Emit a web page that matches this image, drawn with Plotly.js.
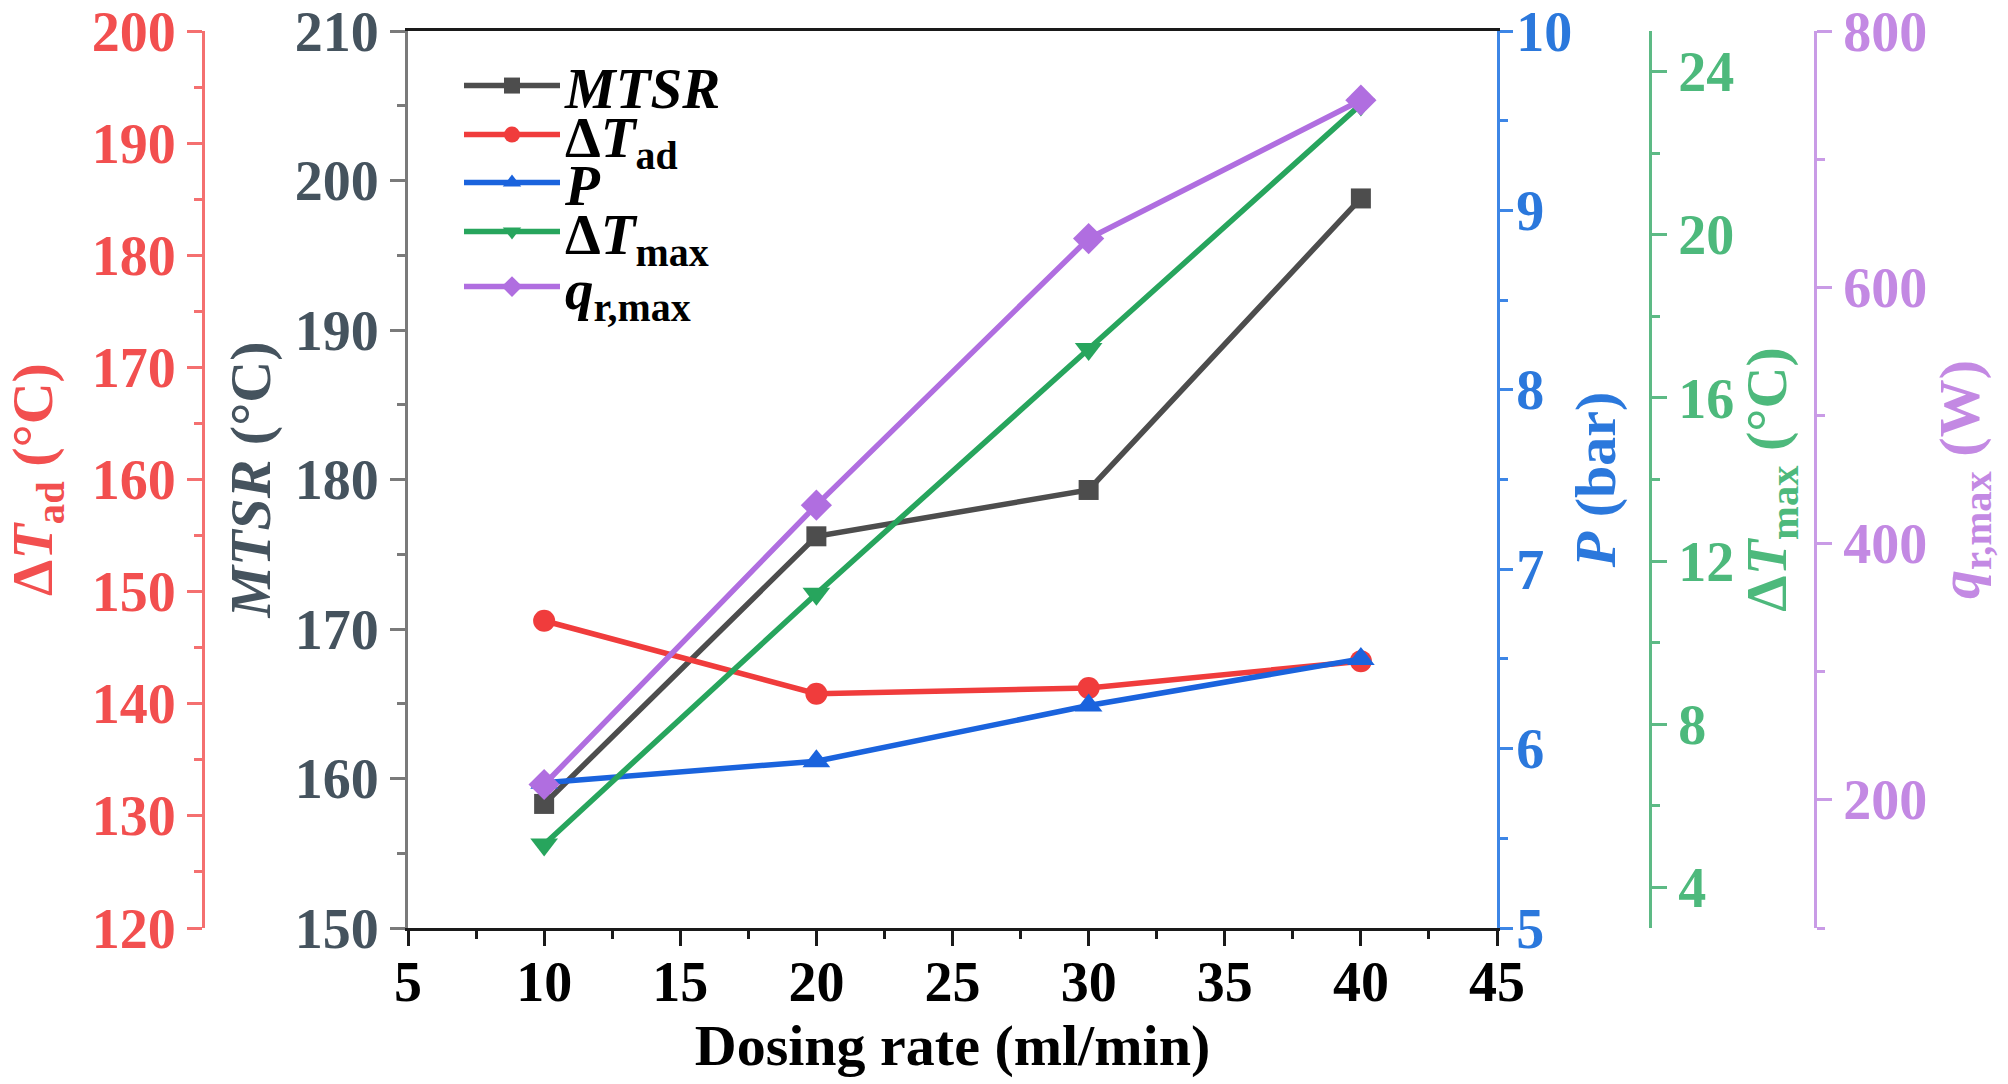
<!DOCTYPE html>
<html>
<head>
<meta charset="utf-8">
<script src="https://cdn.plot.ly/plotly-3.0.1.min.js"></script>
<style>
  html, body { margin: 0; padding: 0; background: #fff; }
  #chart { width: 2008px; height: 1084px; }
</style>
</head>
<body>
<div id="chart"></div>
<script>
// dosing rate (ml/min)
var dosingRate = [10, 20, 30, 40];

// values
var mtsr   = [158.3, 176.2, 179.3, 198.8];   // °C
var dTad   = [147.4, 140.9, 141.4, 143.8];   // °C
var press  = [5.81, 5.93, 6.24, 6.50];       // bar
var dTmax  = [5.05, 11.2, 17.2, 23.2];       // °C
var qrmax  = [212, 430, 638, 746];           // W

var FONT = 'Liberation Serif, Times New Roman, serif';
var TICK = 56, TITLE = 58;

var cMtsr = '#4d4d4d', cRed = '#f03c3c', cBlue = '#1a63dd', cGreen = '#27a55d', cPurple = '#b06ee0';

function tr(y, name, color, symbol, size, axis, leg) {
    return {
        x: dosingRate, y: y, name: name, yaxis: axis, legend: leg,
        type: 'scatter', mode: 'lines+markers',
        line: { color: color, width: 5.5 },
        marker: { color: color, symbol: symbol, size: size }
    };
}

var data = [
    tr(mtsr, '<i>MTSR</i>', cMtsr, 'square', 20, 'y', 'legend'),
    tr(dTad, 'Δ<i>T</i><sub>ad</sub>', cRed, 'circle', 22, 'y2', 'legend2'),
    tr(press, '<i>P</i>', cBlue, 'triangle-up', 24, 'y3', 'legend3'),
    tr(dTmax, 'Δ<i>T</i><sub>max</sub>', cGreen, 'triangle-down', 24, 'y4', 'legend4'),
    tr(qrmax, '<i>q</i><sub>r,max</sub>', cPurple, 'diamond', 24, 'y5', 'legend5')
];

// one legend per row so the rows sit as tight as in the figure
function leg(py) {
    return {
        x: 459 / 2008, y: (928 - py) / 897, xanchor: 'left', yanchor: 'middle',
        bgcolor: 'rgba(0,0,0,0)',
        font: { family: FONT, size: 57, color: '#000', weight: 'bold' },
        itemwidth: 96
    };
}

function yax(lab, ax) {
    return Object.assign({
        showgrid: false, zeroline: false, showline: true,
        linewidth: 3, ticks: 'outside', ticklen: 15, tickwidth: 3,
        tickfont: { family: FONT, size: TICK, color: lab, weight: 'bold' },
        ticklabelstandoff: 0
    }, ax);
}

function ttl(text, color, standoff) {
    return { text: text, standoff: standoff,
             font: { family: FONT, size: TITLE, color: color, weight: 'bold' } };
}

function minor(dtick, color) {
    return { dtick: dtick, tick0: 0, ticks: 'outside', ticklen: 8, tickwidth: 3, tickcolor: color };
}

var layout = {
    width: 2008, height: 1084,
    margin: { l: 0, r: 0, t: 31, b: 156 },
    paper_bgcolor: '#fff', plot_bgcolor: '#fff',
    font: { family: FONT, weight: 'bold' },
    showlegend: true,
    legend: leg(86), legend2: leg(135), legend3: leg(183), legend4: leg(232), legend5: leg(287),
    xaxis: {
        domain: [408 / 2008, 1497 / 2008],
        range: [5, 45], dtick: 5, tick0: 5,
        showgrid: false, zeroline: false, showline: true, mirror: true,
        linecolor: '#1a1a1a', linewidth: 3,
        ticks: 'outside', ticklen: 15, tickwidth: 3, tickcolor: '#1a1a1a',
        minor: minor(2.5, '#1a1a1a'),
        tickfont: { family: FONT, size: TICK, color: '#000', weight: 'bold' },
        ticklabelstandoff: -12,
        title: ttl('Dosing rate (ml/min)', '#000', 12)
    },
    yaxis: yax('#45535e', {
        range: [150, 210], dtick: 10, linecolor: '#7a7a7a', tickcolor: '#7a7a7a',
        minor: minor(5, '#7a7a7a'),
        title: ttl('<i>MTSR</i> (°C)', '#45535e', 6)
    }),
    yaxis2: yax('#f24f4f', {
        range: [120, 200], dtick: 10, overlaying: 'y', side: 'left',
        anchor: 'free', position: 203 / 2008,
        linecolor: '#f47070', tickcolor: '#f47070',
        minor: minor(5, '#f47070'),
        title: ttl('Δ<i>T</i><sub>ad</sub> (°C)', '#f24f4f', 22)
    }),
    yaxis3: yax('#2b78dc', {
        range: [5, 10], dtick: 1, overlaying: 'y', side: 'right', anchor: 'x',
        linecolor: '#3d86e6', tickcolor: '#3d86e6', ticklen: 13,
        ticklabelstandoff: -8,
        minor: minor(0.5, '#3d86e6'),
        title: ttl('<i>P</i> (bar)', '#2b78dc', 4)
    }),
    yaxis4: yax('#4db97c', {
        range: [3, 25], dtick: 4, tick0: 0, overlaying: 'y', side: 'right',
        anchor: 'free', position: 1650 / 2008,
        linecolor: '#5dba85', tickcolor: '#5dba85',
        minor: minor(2, '#5dba85'),
        title: ttl('Δ<i>T</i><sub>max</sub> (°C)', '#4db97c', 0)
    }),
    yaxis5: yax('#c389e3', {
        range: [100, 800], dtick: 200, tick0: 0, overlaying: 'y', side: 'right',
        anchor: 'free', position: 1815 / 2008,
        linecolor: '#c99be6', tickcolor: '#c99be6',
        minor: minor(100, '#c99be6'),
        title: ttl('<i>q</i><sub>r,max</sub> (W)', '#c389e3', 0)
    })
};

Plotly.newPlot('chart', data, layout, { displayModeBar: false, staticPlot: true });
</script>
</body>
</html>
